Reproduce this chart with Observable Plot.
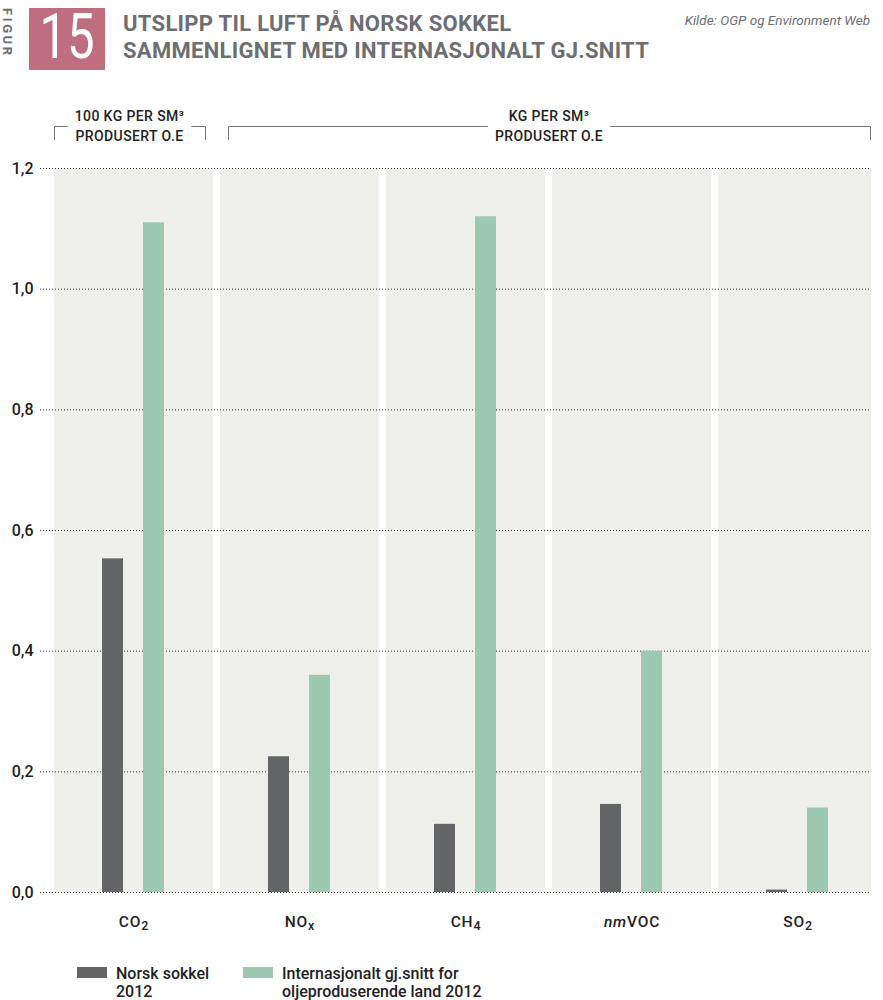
<!DOCTYPE html>
<html><head><meta charset="utf-8">
<script src="https://cdn.jsdelivr.net/npm/d3@7"></script>
<script src="https://cdn.jsdelivr.net/npm/@observablehq/plot@0.6"></script>
<style>
body{margin:0;background:#fff;font-family:Roboto,"Noto Sans",sans-serif;}
#page{position:relative;width:883px;height:1000px;overflow:hidden;}
#figur{position:absolute;left:0px;top:8px;width:18px;height:52px;}
#figur span{position:absolute;left:15px;top:0;transform-origin:0 0;transform:rotate(90deg);font-weight:700;font-size:13px;letter-spacing:2.6px;color:#6d6e71;white-space:nowrap;}
#num{position:absolute;left:29px;top:8px;width:76px;height:62px;background:#bf6e7f;}
#num span{position:absolute;left:38px;top:-3px;transform:translateX(-50%) scaleX(0.78);color:#fff;font-size:63px;line-height:63px;font-weight:400;}
#title{position:absolute;left:123px;top:10px;font-weight:700;font-size:22px;letter-spacing:0.3px;line-height:27px;color:#6d6e71;white-space:nowrap;}
#kilde{position:absolute;right:13px;top:12px;font-style:italic;font-size:13.5px;color:#6d6e71;}
#chart{position:absolute;left:0;top:90px;}
.leg{position:absolute;top:965px;font-size:16px;font-weight:500;line-height:18px;color:#222;}
.sw{position:absolute;top:967px;width:30px;height:11px;}
</style></head><body><div id="page">
<div id="figur"><span>FIGUR</span></div>
<div id="num"><span>15</span></div>
<div id="title">UTSLIPP TIL LUFT PÅ NORSK SOKKEL<br>SAMMENLIGNET MED INTERNASJONALT GJ.SNITT</div>
<div id="kilde">Kilde: OGP og Environment Web</div>
<div id="chart"></div>
<div id="legend"></div>
</div>
<script>
// ---- data ----
const categories = ["CO2", "NOx", "CH4", "nmVOC", "SO2"];
const seriesNames = ["Norsk sokkel\n2012", "Internasjonalt gj.snitt for\noljeproduserende land 2012"];
const seriesColors = ["#646566", "#9dc8b1"];
const norsk = [0.553, 0.225, 0.113, 0.146, 0.004];
const internasjonalt = [1.11, 0.36, 1.12, 0.40, 0.14];
const yTicks = [0, 0.2, 0.4, 0.6, 0.8, 1.0, 1.2];
const bracketLabels = [["100 KG PER SM³", "PRODUSERT O.E"], ["KG PER SM³", "PRODUSERT O.E"]];
const bracketFrom = ["CO2", "NOx"];
const bracketTo = ["CO2", "SO2"];

const rowsN = categories.map((c, i) => ({cat: c, value: norsk[i]}));
const rowsI = categories.map((c, i) => ({cat: c, value: internasjonalt[i]}));
const yMax = d3.max(yTicks);

const W = 883, H = 855;
const chart = Plot.plot({
  width: W, height: H,
  marginTop: 78, marginBottom: 53, marginLeft: 40, marginRight: 12,
  style: {fontFamily: "Roboto, 'Noto Sans', sans-serif", fontSize: "15px", color: "#222", background: "#fff"},
  x: {domain: categories, range: [54, 877], paddingInner: 0.0422, paddingOuter: 0, axis: null, label: null},
  y: {domain: [0, yMax], axis: null, label: null},
  marks: [
    Plot.barY(categories, {x: d => d, y1: 0, y2: yMax, fill: "#efefeb", clip: true}),
    Plot.gridY(yTicks.filter(t => t > 0), {stroke: "#333", strokeOpacity: 1, strokeWidth: 1, strokeDasharray: "1,2"}),
    Plot.barY(rowsN, {x: "cat", y: "value", fill: seriesColors[0], insetLeft: 48, insetRight: 90}),
    Plot.barY(rowsI, {x: "cat", y: "value", fill: seriesColors[1], insetLeft: 89, insetRight: 49}),
    Plot.ruleY([0], {stroke: "#333", strokeWidth: 1, strokeDasharray: "1,2"}),
    Plot.axisY({ticks: yTicks, label: null, tickSize: 0, tickPadding: 7, tickFormat: d => d.toFixed(1).replace(".", ","), fontSize: 16, fontWeight: 500, fill: "#222"}),
    Plot.axisX({label: null, tickSize: 0, tickPadding: 23, fontSize: 15.5, fontWeight: 500, fill: "#222"})
  ]
});
document.getElementById("chart").appendChild(chart);

// subscripts / italics in x tick labels
d3.select(chart).selectAll('g[aria-label="x-axis tick label"] text').each(function() {
  const t = this.textContent;
  const m = t.match(/^([a-z]*)([A-Z]+)([0-9x]?)$/);
  if (!m) return;
  const sel = d3.select(this).attr("letter-spacing", 0.8);
  sel.text(null);
  if (m[1]) sel.append("tspan").attr("font-style", "italic").text(m[1]);
  sel.append("tspan").text(m[2]);
  if (m[3]) sel.append("tspan").attr("font-size", 12.5).attr("dy", "0.25em").text(m[3]);
});

// brackets above the panels
const xs = chart.scale("x");
const bw = xs.bandwidth;
const svg = d3.select(chart);
const g = svg.append("g").attr("fill", "none");
const frameRight = W - 12;
bracketLabels.forEach((lab, i) => {
  const x0 = xs.apply(bracketFrom[i]) + (i === 0 ? 0 : 8);
  const x1 = i === 0 ? xs.apply(bracketTo[i]) + bw - 8 : frameRight - 1;
  const cx = (x0 + x1) / 2;
  const yL = 36, yB = 50;
  const tg = svg.append("g").attr("text-anchor", "middle").attr("font-size", 14).attr("font-weight", 500)
    .attr("letter-spacing", 0.4).attr("fill", "#222");
  const t1 = tg.append("text").attr("x", cx).attr("y", 31).text(lab[0]);
  const t2 = tg.append("text").attr("x", cx).attr("y", 51).text(lab[1]);
  const tw = Math.max(t1.node().getComputedTextLength(), t2.node().getComputedTextLength());
  const gap0 = cx - tw / 2 - 7, gap1 = cx + tw / 2 + 7;
  g.append("path").attr("stroke", "#777").attr("stroke-width", 1)
    .attr("d", `M${x0 + 0.5},${yB}V${yL + 0.5}H${gap0}M${gap1},${yL + 0.5}H${x1 + 0.5}V${yB}`);
});

// legend
const leg = document.getElementById("legend");
const legX = [77, 243];
seriesNames.forEach((s, i) => {
  const sw = document.createElement("div");
  sw.className = "sw"; sw.style.left = legX[i] + "px"; sw.style.background = seriesColors[i];
  leg.appendChild(sw);
  const tx = document.createElement("div");
  tx.className = "leg"; tx.style.left = (legX[i] + 39) + "px";
  tx.innerHTML = s.split("\n").join("<br>");
  leg.appendChild(tx);
});
</script>
</body></html>
